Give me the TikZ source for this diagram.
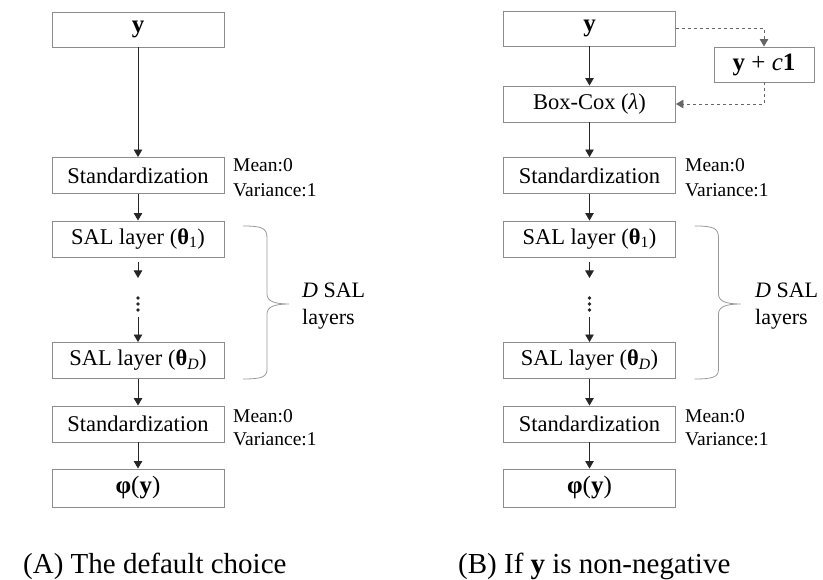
\documentclass[tikz,border=0pt]{standalone}
\usepackage{fontspec}
\setmainfont{Liberation Serif}
\usetikzlibrary{arrows.meta}

\begin{document}
\begin{tikzpicture}[x=1pt,y=-1pt,
  box/.style={draw=black!45, line width=0.9pt, minimum width=172pt, minimum height=36pt, inner sep=0pt, font=\fontsize{22.5}{27}\selectfont},
  mathbox/.style={box, font=\fontsize{25}{29}\selectfont},
  arr/.style={draw=black!85, line width=0.9pt, -{Triangle[length=7.5pt,width=8.5pt]}},
  darr/.style={arr, dashed, draw=black!60, line width=0.8pt},
  note/.style={font=\fontsize{19.5}{25}\selectfont, anchor=base west, inner sep=0pt},
  bracestyle/.style={draw=black!40, line width=0.8pt},
  captext/.style={font=\fontsize{29}{33}\selectfont, anchor=base west, inner sep=0pt},
  dotstyle/.style={fill=black!85, draw=none, circle, minimum size=3.6pt, inner sep=0pt}]
\useasboundingbox (0,0) rectangle (823,580);

% ---------------- Panel A ----------------
\node[mathbox, minimum height=35pt] (yA) at (138,29.5) {\textbf{y}};
\node[box] (stdA1) at (138,175.5) {Standardization};
\node[box] (salA1) at (138,239) {SAL layer (\textbf{θ}\textsubscript{1})};
\node[box] (salAD) at (138,360.5) {SAL layer (\textbf{θ}\textsubscript{\textit{D}})};
\node[box] (stdA2) at (138,424) {Standardization};
\node[mathbox, minimum height=38pt] (phiA) at (138,488) {\textbf{φ}(\textbf{y})};

\coordinate (aA1) at (138,262);
\coordinate (aA2) at (138,278);
\coordinate (aA3) at (138,317);
\node[dotstyle] (dA1) at (138,298) {};
\node[dotstyle] (dA2) at (138,304) {};
\node[dotstyle] (dA3) at (138,310) {};

\draw[arr] (yA.south) -- (stdA1.north);
\draw[arr] (stdA1.south) -- (salA1.north);
\draw[arr] (aA1) -- (aA2);
\draw[arr] (aA3) -- (salAD.north);
\draw[arr] (salAD.south) -- (stdA2.north);
\draw[arr] (stdA2.south) -- (phiA.north);

\node[note] (mA1) at (233,172) {Mean:0};
\node[note] (vA1) at (233,197) {Variance:1};
\node[note] (mA2) at (233,422) {Mean:0};
\node[note] (vA2) at (233,446) {Variance:1};

\draw[bracestyle] (243,226) .. controls (262,226) and (267,228) .. (267,238)
  -- (267,294) .. controls (267,301) and (274,304) .. (289,304)
  .. controls (274,304) and (267,307) .. (267,314)
  -- (267,369) .. controls (267,377) and (262,379) .. (243,379);
\node[note, font=\fontsize{22}{26}\selectfont] (dsA) at (302,298) {\textit{D} SAL};
\node[note, font=\fontsize{22}{26}\selectfont] (lyA) at (302,325) {layers};

\node[captext] (capA) at (23,573) {(A) The default choice};

% ---------------- Panel B ----------------
\node[mathbox, minimum height=35pt] (yB) at (589.5,28.5) {\textbf{y}};
\node[mathbox, minimum width=100pt, minimum height=35pt] (ycB) at (764,64.5) {\textbf{y} + \textit{c}\textbf{1}};
\node[box] (bcB) at (589.5,104) {Box-Cox (\textit{λ})};
\node[box] (stdB1) at (589.5,175.5) {Standardization};
\node[box] (salB1) at (589.5,239) {SAL layer (\textbf{θ}\textsubscript{1})};
\node[box] (salBD) at (589.5,360.5) {SAL layer (\textbf{θ}\textsubscript{\textit{D}})};
\node[box] (stdB2) at (589.5,424) {Standardization};
\node[mathbox, minimum height=38pt] (phiB) at (589.5,488) {\textbf{φ}(\textbf{y})};

\coordinate (aB1) at (589.5,262);
\coordinate (aB2) at (589.5,278);
\coordinate (aB3) at (589.5,317);
\node[dotstyle] (dB1) at (589.5,298) {};
\node[dotstyle] (dB2) at (589.5,304) {};
\node[dotstyle] (dB3) at (589.5,310) {};

\draw[arr] (yB.south) -- (bcB.north);
\draw[arr] (bcB.south) -- (stdB1.north);
\draw[arr] (stdB1.south) -- (salB1.north);
\draw[arr] (aB1) -- (aB2);
\draw[arr] (aB3) -- (salBD.north);
\draw[arr] (salBD.south) -- (stdB2.north);
\draw[arr] (stdB2.south) -- (phiB.north);

\draw[darr] (yB.east) -| (ycB.north);
\draw[darr] (ycB.south) |- (bcB.east);

\node[note] (mB1) at (685,172) {Mean:0};
\node[note] (vB1) at (685,197) {Variance:1};
\node[note] (mB2) at (685,422) {Mean:0};
\node[note] (vB2) at (685,446) {Variance:1};

\begin{scope}[xshift=451.5pt]
\draw[bracestyle] (243,226) .. controls (262,226) and (267,228) .. (267,238)
  -- (267,294) .. controls (267,301) and (274,304) .. (289,304)
  .. controls (274,304) and (267,307) .. (267,314)
  -- (267,369) .. controls (267,377) and (262,379) .. (243,379);
\end{scope}
\node[note, font=\fontsize{22}{26}\selectfont] (dsB) at (755,298) {\textit{D} SAL};
\node[note, font=\fontsize{22}{26}\selectfont] (lyB) at (755,325) {layers};

\node[captext] (capB) at (458,573) {(B) If \textbf{y} is non-negative};
\end{tikzpicture}
\end{document}
